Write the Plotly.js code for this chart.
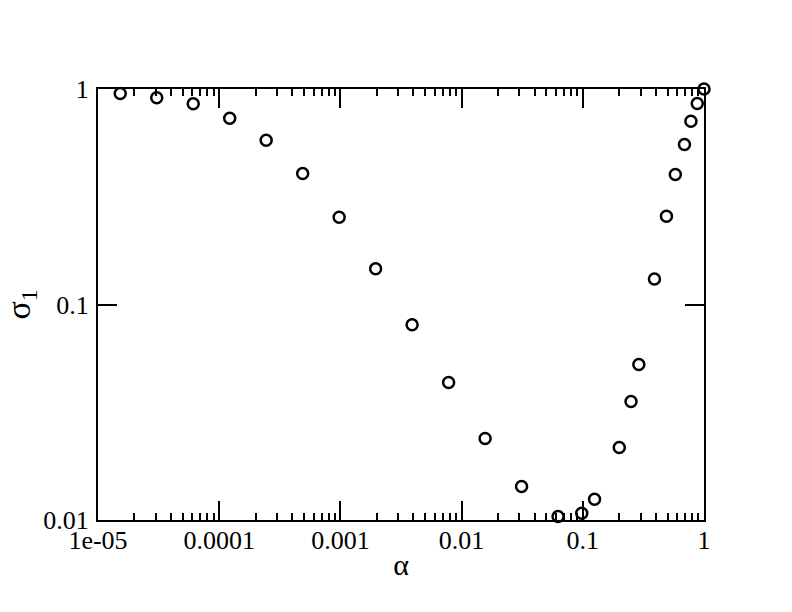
<!DOCTYPE html>
<html>
<head>
<meta charset="utf-8">
<script src="https://cdn.plot.ly/plotly-3.0.1.min.js"></script>
<style>html,body{margin:0;padding:0;background:#fff;}</style>
</head>
<body>
<div id="chart" style="width:792px;height:612px;"></div>
<script>
// Data
const alpha = [1.526e-5, 3.052e-5, 6.104e-5, 1.221e-4, 2.441e-4, 4.883e-4, 9.766e-4,
  1.953e-3, 3.906e-3, 7.813e-3, 1.563e-2, 3.125e-2, 6.25e-2,
  0.098, 0.125, 0.2, 0.25, 0.29, 0.39, 0.49, 0.58, 0.69, 0.78, 0.88, 1.0];
const sigma1 = [0.953, 0.910, 0.854, 0.732, 0.578, 0.405, 0.254, 0.1466, 0.0806, 0.0435, 0.0239, 0.0143, 0.01037,
  0.01075, 0.01249, 0.0217, 0.0355, 0.0527, 0.1313, 0.2566, 0.4008, 0.5525, 0.7086, 0.856, 1.0];

const xTickVals = [1e-5, 1e-4, 1e-3, 1e-2, 1e-1, 1];
const xTickText = ['1e-05', '0.0001', '0.001', '0.01', '0.1', '1'];
const yTickVals = [0.01, 0.1, 1];
const yTickText = ['0.01', '0.1', '1'];

const xMinor = [];
for (let k = -5; k < 0; k++) for (let d = 2; d <= 9; d++) xMinor.push(d * Math.pow(10, k));

const fam = "'Liberation Serif', 'Times New Roman', Times, serif";
const f = (s) => ({family: fam, size: s, color: '#000'});

const trace = {
  x: alpha, y: sigma1, type: 'scatter', mode: 'markers',
  cliponaxis: false,
  marker: {symbol: 'circle-open', size: 11, color: '#000', line: {color: '#000', width: 2.5}}
};

const layout = {
  width: 792, height: 612,
  margin: {l: 98, r: 88, t: 89, b: 92},
  paper_bgcolor: '#fff', plot_bgcolor: '#fff',
  showlegend: false,
  font: f(26),
  xaxis: {
    type: 'log', range: [-5, 0],
    tickmode: 'array', tickvals: xTickVals, ticktext: xTickText,
    ticks: 'inside', ticklen: 19, tickwidth: 2, tickcolor: '#000',
    minor: {tickmode: 'array', tickvals: xMinor, ticks: 'inside', ticklen: 7, tickwidth: 2, tickcolor: '#000', showgrid: false},
    showline: true, linecolor: '#000', linewidth: 2, mirror: 'allticks',
    showgrid: false, zeroline: false,
    tickfont: f(26),
    ticklabelstandoff: -4,
    title: {text: 'α', font: f(30), standoff: 0}
  },
  yaxis: {
    type: 'log', range: [-2, 0],
    tickmode: 'array', tickvals: yTickVals, ticktext: yTickText,
    ticks: 'inside', ticklen: 19, tickwidth: 2, tickcolor: '#000',
    showline: true, linecolor: '#000', linewidth: 2, mirror: 'allticks',
    showgrid: false, zeroline: false,
    tickfont: f(26),
    ticklabelstandoff: 2,
    title: {text: 'σ<sub>1</sub>', font: f(34), standoff: 8}
  }
};

Plotly.newPlot('chart', [trace], layout, {displayModeBar: false, staticPlot: true});
</script>
</body>
</html>
